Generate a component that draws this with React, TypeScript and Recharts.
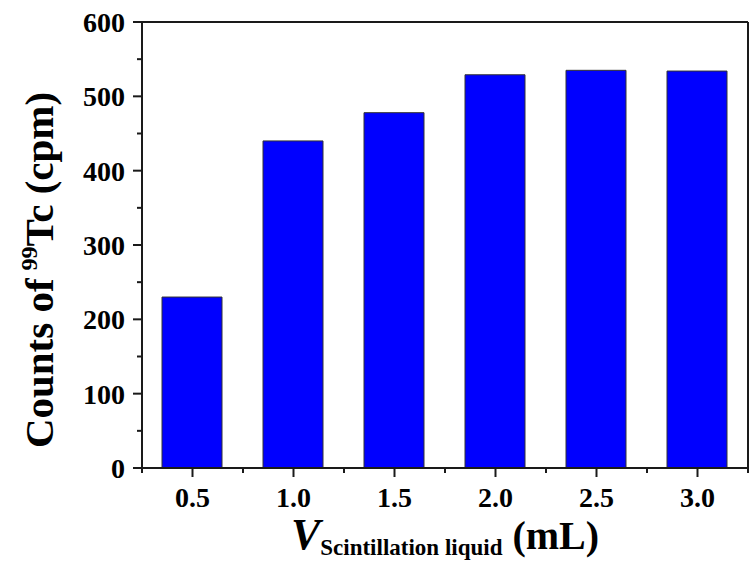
import React from "react";
import { BarChart, Bar, XAxis, YAxis, ReferenceLine } from "recharts";

// Scintillation liquid volume (mL) and measured 99Tc counts (cpm)
const volumes = [0.5, 1.0, 1.5, 2.0, 2.5, 3.0];
const counts = [230, 440, 478, 529, 535, 534];

// Axis ticks: labelled majors plus unlabelled minors
const yTicks = [0, 50, 100, 150, 200, 250, 300, 350, 400, 450, 500, 550, 600];
const xTicks = [0.25, 0.5, 0.75, 1.0, 1.25, 1.5, 1.75, 2.0, 2.25, 2.5, 2.75, 3.0, 3.25];
const xDomain: [number, number] = [0.25, 3.25];
const yDomain: [number, number] = [0, 600];

const data = volumes.map((v, i) => ({ volume: v, counts: counts[i] }));

const FONT = "'Liberation Serif', 'Times New Roman', serif";
const AXIS = "#1a1a1a";

const YTick = (props: any) => {
  const { x, y, payload } = props;
  const major = payload.value % 100 === 0;
  const len = major ? 9 : 5;
  return (
    <g>
      <line x1={x - len} x2={x} y1={y} y2={y} stroke={AXIS} strokeWidth={2} />
      {major && (
        <text
          x={x - 17}
          y={y}
          dy={10}
          textAnchor="end"
          fontFamily={FONT}
          fontWeight="bold"
          fontSize={28}
          fill="#000"
        >
          {payload.value}
        </text>
      )}
    </g>
  );
};

const XTick = (props: any) => {
  const { x, y, payload } = props;
  const major = Math.abs(payload.value * 2 - Math.round(payload.value * 2)) < 1e-6;
  const len = major ? 9 : 5;
  return (
    <g>
      <line x1={x} x2={x} y1={y} y2={y + len} stroke={AXIS} strokeWidth={2} />
      {major && (
        <text
          x={x}
          y={y + 39}
          textAnchor="middle"
          fontFamily={FONT}
          fontWeight="bold"
          fontSize={28}
          fill="#000"
        >
          {payload.value.toFixed(1)}
        </text>
      )}
    </g>
  );
};

const YLabel = (props: any) => {
  const { viewBox } = props;
  const cx = viewBox.x + 53;
  const cy = viewBox.y + viewBox.height / 2 + 25;
  return (
    <text
      x={cx}
      y={cy}
      transform={`rotate(-90, ${cx}, ${cy})`}
      textAnchor="middle"
      fontFamily={FONT}
      fontWeight="bold"
      fontSize={41}
      fill="#000"
    >
      Counts of
      <tspan fontSize={24} dx={8} dy={-16}>
        99
      </tspan>
      <tspan dy={16}>Tc (cpm)</tspan>
    </text>
  );
};

const XLabel = (props: any) => {
  const { viewBox } = props;
  const cx = viewBox.x + viewBox.width / 2;
  const cy = viewBox.y + 81;
  return (
    <text
      x={cx}
      y={cy}
      textAnchor="middle"
      fontFamily={FONT}
      fontWeight="bold"
      fontSize={40}
      fill="#000"
    >
      <tspan fontStyle="italic" fontSize={44}>
        V
      </tspan>
      <tspan fontSize={23} dy={6}>
        Scintillation liquid
      </tspan>
      <tspan dy={-6}> (mL)</tspan>
    </text>
  );
};

export default function App() {
  return (
    <div style={{ position: "absolute", left: 0, top: 0, background: "#fff" }}>
      <BarChart
        width={752}
        height={567}
        data={data}
        margin={{ top: 22, right: 4, bottom: 0, left: 0 }}
      >
        <XAxis
          xAxisId="bottom"
          dataKey="volume"
          type="number"
          domain={xDomain}
          ticks={xTicks}
          interval={0}
          height={99}
          tickSize={0}
          tickMargin={0}
          tickLine={false}
          axisLine={{ stroke: AXIS, strokeWidth: 2 }}
          tick={<XTick />}
          label={<XLabel />}
        />
        <YAxis
          yAxisId="left"
          type="number"
          domain={yDomain}
          ticks={yTicks}
          interval={0}
          width={142}
          tickSize={0}
          tickMargin={0}
          tickLine={false}
          axisLine={{ stroke: AXIS, strokeWidth: 2 }}
          tick={<YTick />}
          label={<YLabel />}
        />
        <Bar
          xAxisId="bottom"
          yAxisId="left"
          dataKey="counts"
          barSize={60}
          fill="#0000ff"
          stroke="#333333"
          strokeWidth={1}
          isAnimationActive={false}
        />
        {/* Closing frame: top and right borders of the plot */}
        <ReferenceLine
          xAxisId="bottom"
          yAxisId="left"
          y={yDomain[1]}
          stroke={AXIS}
          strokeWidth={2}
          ifOverflow="visible"
        />
        <ReferenceLine
          xAxisId="bottom"
          yAxisId="left"
          x={xDomain[1]}
          stroke={AXIS}
          strokeWidth={2}
          ifOverflow="visible"
        />
      </BarChart>
    </div>
  );
}
